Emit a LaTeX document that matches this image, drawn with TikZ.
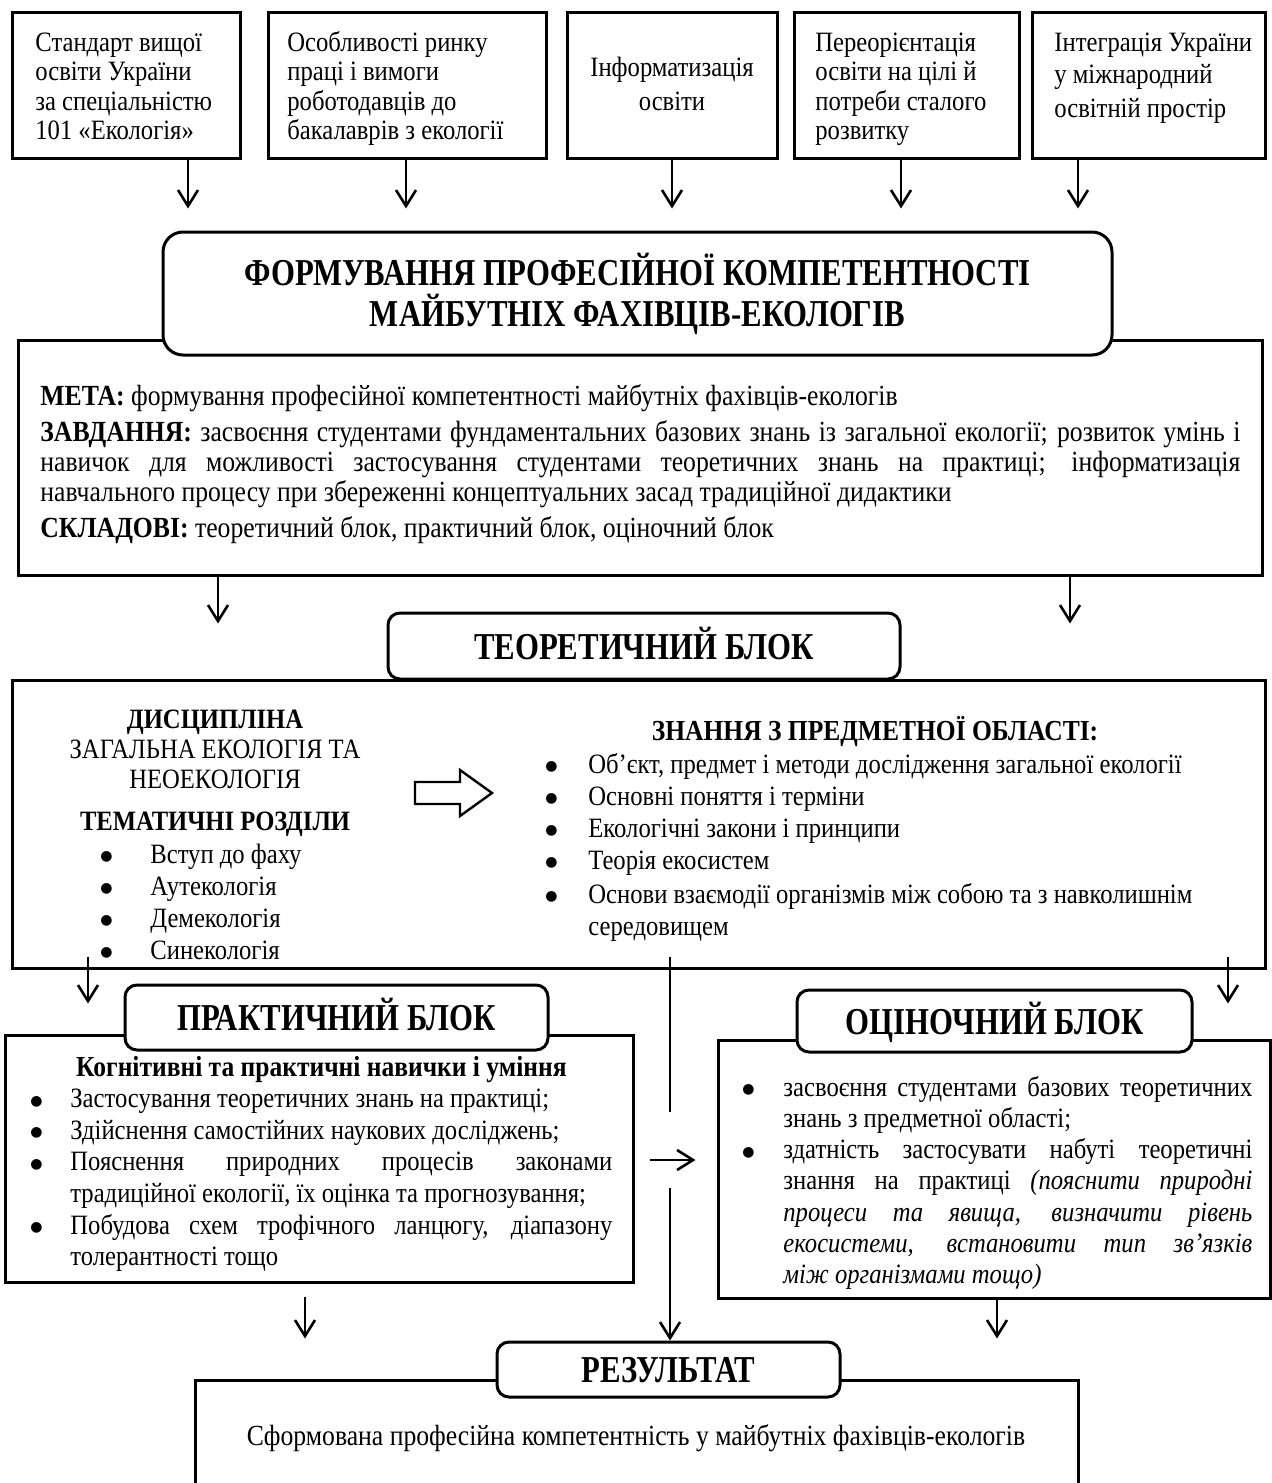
\documentclass[tikz,border=0pt]{standalone}
\usepackage{fontspec}
\setmainfont{Liberation Serif}[FakeStretch=0.88]
\newfontfamily\headfont{Liberation Serif}[FakeStretch=0.81]
\newfontfamily\symfont{DejaVu Sans}
\usetikzlibrary{arrows.meta}
\hyphenpenalty=10000
\exhyphenpenalty=10000
\newcommand\mybullet{\raisebox{1.2pt}{\symfont\fontsize{7}{7}\selectfont ●}}
\newcommand\bitem[2]{\hangindent=#1\hangafter=1\noindent\makebox[#1][l]{\mybullet}#2\par}
\tikzset{
  frame/.style={draw, line width=1.5pt, inner sep=0pt},
  tag/.style={draw, fill=white, line width=1.5pt, rounded corners=6pt, inner sep=0pt, align=center, text height=13pt, text depth=0pt, font=\headfont\fontsize{19}{20.5}\selectfont\bfseries},
  body/.style={inner sep=0pt, font=\fontsize{14}{14.75}\selectfont},
  arr/.style={line width=1.3pt, -{Straight Barb[length=8pt,width=10pt]}},
  plain/.style={line width=1.3pt},
}
\begin{document}
\begin{tikzpicture}[x=0.5pt,y=-0.5pt]
\fill[white] (0,0) rectangle (1272,1483);
\useasboundingbox (0,0) rectangle (1272,1483);

% ---------- top boxes
\node[frame, minimum width=114pt, minimum height=73pt] (s1) at (126,85) {};
\node[frame, minimum width=139pt, minimum height=73pt] (s2) at (407,85) {};
\node[frame, minimum width=105pt, minimum height=73pt] (s3) at (672,85) {};
\node[frame, minimum width=112.5pt, minimum height=73pt] (s4) at (906.5,85) {};
\node[frame, minimum width=116.5pt, minimum height=73pt] (s5) at (1148.5,85) {};

\node[body, anchor=base west, text width=110pt, align=flush left] (t1) at (35,51)
  {Стандарт вищої\\освіти України\\за спеціальністю\\101 «Екологія»};
\node[body, anchor=base west, text width=130pt, align=flush left] (t2) at (287,51)
  {Особливості ринку\\праці і вимоги\\роботодавців до\\бакалаврів з екології};
\node[body, anchor=base, text width=100pt, align=flush center, font=\fontsize{14}{17}\selectfont] (t3) at (672,76)
  {Інформатизація\\освіти};
\node[body, anchor=base west, text width=105pt, align=flush left] (t4) at (815,51)
  {Переорієнтація\\освіти на цілі й\\потреби сталого\\розвитку};
\node[body, anchor=base west, text width=105pt, align=flush left, font=\fontsize{14}{16.5}\selectfont] (t5) at (1054,51)
  {Інтеграція України\\у міжнародний\\освітній простір};

% ---------- goal box
\node[frame, minimum width=622pt, minimum height=117.5pt] (goal) at (640,457.5) {};
\node[body, anchor=base west, text width=600pt, align=justify, font=\fontsize{14.6}{15}\selectfont] (goaltext) at (40,405)
  {\setlength\parskip{3pt}\textbf{МЕТА:} формування професійної компетентності майбутніх фахівців-екологів\par
   \textbf{ЗАВДАННЯ:} засвоєння студентами фундаментальних базових знань із загальної екології; розвиток умінь і\linebreak
   навичок для можливості застосування студентами теоретичних знань на практиці; інформатизація\linebreak
   навчального процесу при збереженні концептуальних засад традиційної дидактики\par
   \textbf{СКЛАДОВІ:} теоретичний блок, практичний блок, оціночний блок};
\node[tag, rounded corners=10pt, minimum width=474.5pt, minimum height=61.5pt, text height=, text depth=] (title) at (637.5,293.5)
  {ФОРМУВАННЯ ПРОФЕСІЙНОЇ КОМПЕТЕНТНОСТІ\\МАЙБУТНІХ ФАХІВЦІВ-ЕКОЛОГІВ};

% ---------- theory block
\node[frame, minimum width=626.5pt, minimum height=144pt] (theory) at (638.5,824) {};
\node[tag, minimum width=256pt, minimum height=33pt] (thtag) at (644,646) {ТЕОРЕТИЧНИЙ БЛОК};

\node[body, anchor=base, text width=170pt, align=flush center, font=\fontsize{14}{15}\selectfont] (disc) at (215,728)
  {\textbf{ДИСЦИПЛІНА}\\ЗАГАЛЬНА ЕКОЛОГІЯ ТА\\НЕОЕКОЛОГІЯ\\[6pt]\textbf{ТЕМАТИЧНІ РОЗДІЛИ}};
\node[body, anchor=base west, text width=120pt, align=flush left, font=\fontsize{14}{16}\selectfont] (topics) at (100,863)
  {\bitem{25pt}{Вступ до фаху}\bitem{25pt}{Аутекологія}\bitem{25pt}{Демекологія}\bitem{25pt}{Синекологія}};

\draw[line width=1.2pt, fill=white] (415,782) -- (460,782) -- (460,770) -- (492,793) -- (460,816) -- (460,804) -- (415,804) -- cycle;

\node[body, anchor=base, font=\fontsize{14.5}{16}\selectfont\bfseries] (know) at (875,740) {ЗНАННЯ З ПРЕДМЕТНОЇ ОБЛАСТІ:};
\node[body, anchor=base west, text width=340pt, align=flush left, font=\fontsize{14}{16}\selectfont] (knowlist) at (545,773)
  {\bitem{21.5pt}{Об’єкт, предмет і методи дослідження загальної екології}%
   \bitem{21.5pt}{Основні поняття і терміни}%
   \bitem{21.5pt}{Екологічні закони і принципи}%
   \bitem{21.5pt}{Теорія екосистем}%
   \vspace{1pt}%
   \bitem{21.5pt}{Основи взаємодії організмів між собою та з навколишнім\linebreak середовищем}};

% ---------- practical block
\node[frame, minimum width=314pt, minimum height=123.5pt] (prac) at (319,1158.5) {};
\node[tag, minimum width=211.5pt, minimum height=32.5pt] (prtag) at (336.5,1017.5) {ПРАКТИЧНИЙ БЛОК};
\node[body, anchor=base west, text width=291pt, align=justify, font=\fontsize{14}{15.8}\selectfont] (praclist) at (30,1076)
  {\hbox to\hsize{\hss\fontsize{14.5}{15.8}\selectfont\bfseries Когнітивні та практичні навички і уміння\hss}\par
   \bitem{20pt}{Застосування теоретичних знань на практиці;}%
   \bitem{20pt}{Здійснення самостійних наукових досліджень;}%
   \bitem{20pt}{Пояснення природних процесів законами\linebreak традиційної екології, їх оцінка та прогнозування;}%
   \bitem{20pt}{Побудова схем трофічного ланцюгу, діапазону\linebreak толерантності тощо}};

% ---------- evaluation block
\node[frame, minimum width=276pt, minimum height=129pt] (eval) at (994,1169) {};
\node[tag, minimum width=197.5pt, minimum height=31pt] (evtag) at (994.5,1021) {ОЦІНОЧНИЙ БЛОК};
\node[body, anchor=base west, text width=255pt, align=justify, font=\fontsize{14}{15.65}\selectfont] (evallist) at (742,1096)
  {\bitem{20.5pt}{засвоєння студентами базових теоретичних\linebreak знань з предметної області;}%
   \bitem{20.5pt}{здатність застосувати набуті теоретичні\linebreak знання на практиці \textit{(пояснити природні\linebreak процеси та явища, визначити рівень\linebreak екосистеми, встановити тип зв’язків\linebreak між організмами тощо)}}};

% ---------- result block
\node[frame, minimum width=441.5pt, minimum height=60pt] (res) at (636.5,1440) {};
\node[tag, minimum width=171.5pt, minimum height=27.5pt] (restag) at (668.5,1369.5) {РЕЗУЛЬТАТ};
\node[body, anchor=base, font=\fontsize{14.6}{15}\selectfont] (restext) at (636,1445) {Сформована професійна компетентність у майбутніх фахівців-екологів};

% ---------- connectors
\coordinate (x1) at (188,0);
\coordinate (x2) at (406,0);
\coordinate (x3) at (672,0);
\coordinate (x4) at (901,0);
\coordinate (x5) at (1078,0);
\foreach \s/\x in {s1/x1,s2/x2,s3/x3,s4/x4,s5/x5}
  \draw[arr, shorten >=11pt] (\s.south -| \x) -- (title.north -| \x);

\coordinate (g1) at (218,0);
\coordinate (g2) at (1070,0);
\draw[arr, shorten >=27.5pt] (goal.south -| g1) -- (theory.north -| g1);
\draw[arr, shorten >=27.5pt] (goal.south -| g2) -- (theory.north -| g2);

\coordinate (h1) at (88,0);
\coordinate (h2) at (1228,0);
\draw[arr, shorten <=-6.5pt, shorten >=15pt] (theory.south -| h1) -- (prac.north -| h1);
\draw[arr, shorten <=-6.5pt, shorten >=17.5pt] (theory.south -| h2) -- (eval.north -| h2);

\coordinate (mtop) at (670,1112);
\coordinate (mbot) at (670,1188);
\coordinate (mid) at (0,1160);
\draw[plain, shorten <=-6.5pt] (theory.south -| mtop) -- (mtop);
\draw[arr] (mbot) -- (restag.north -| mbot);
\draw[arr, shorten <=7.5pt, shorten >=10.5pt] (prac.east |- mid) -- (eval.west |- mid);

\coordinate (b1) at (305,0);
\coordinate (b2) at (997,0);
\draw[arr, shorten <=6.5pt, shorten >=20pt] (prac.south -| b1) -- (res.north -| b1);
\draw[arr, shorten >=20pt] (eval.south -| b2) -- (res.north -| b2);
\end{tikzpicture}
\end{document}
